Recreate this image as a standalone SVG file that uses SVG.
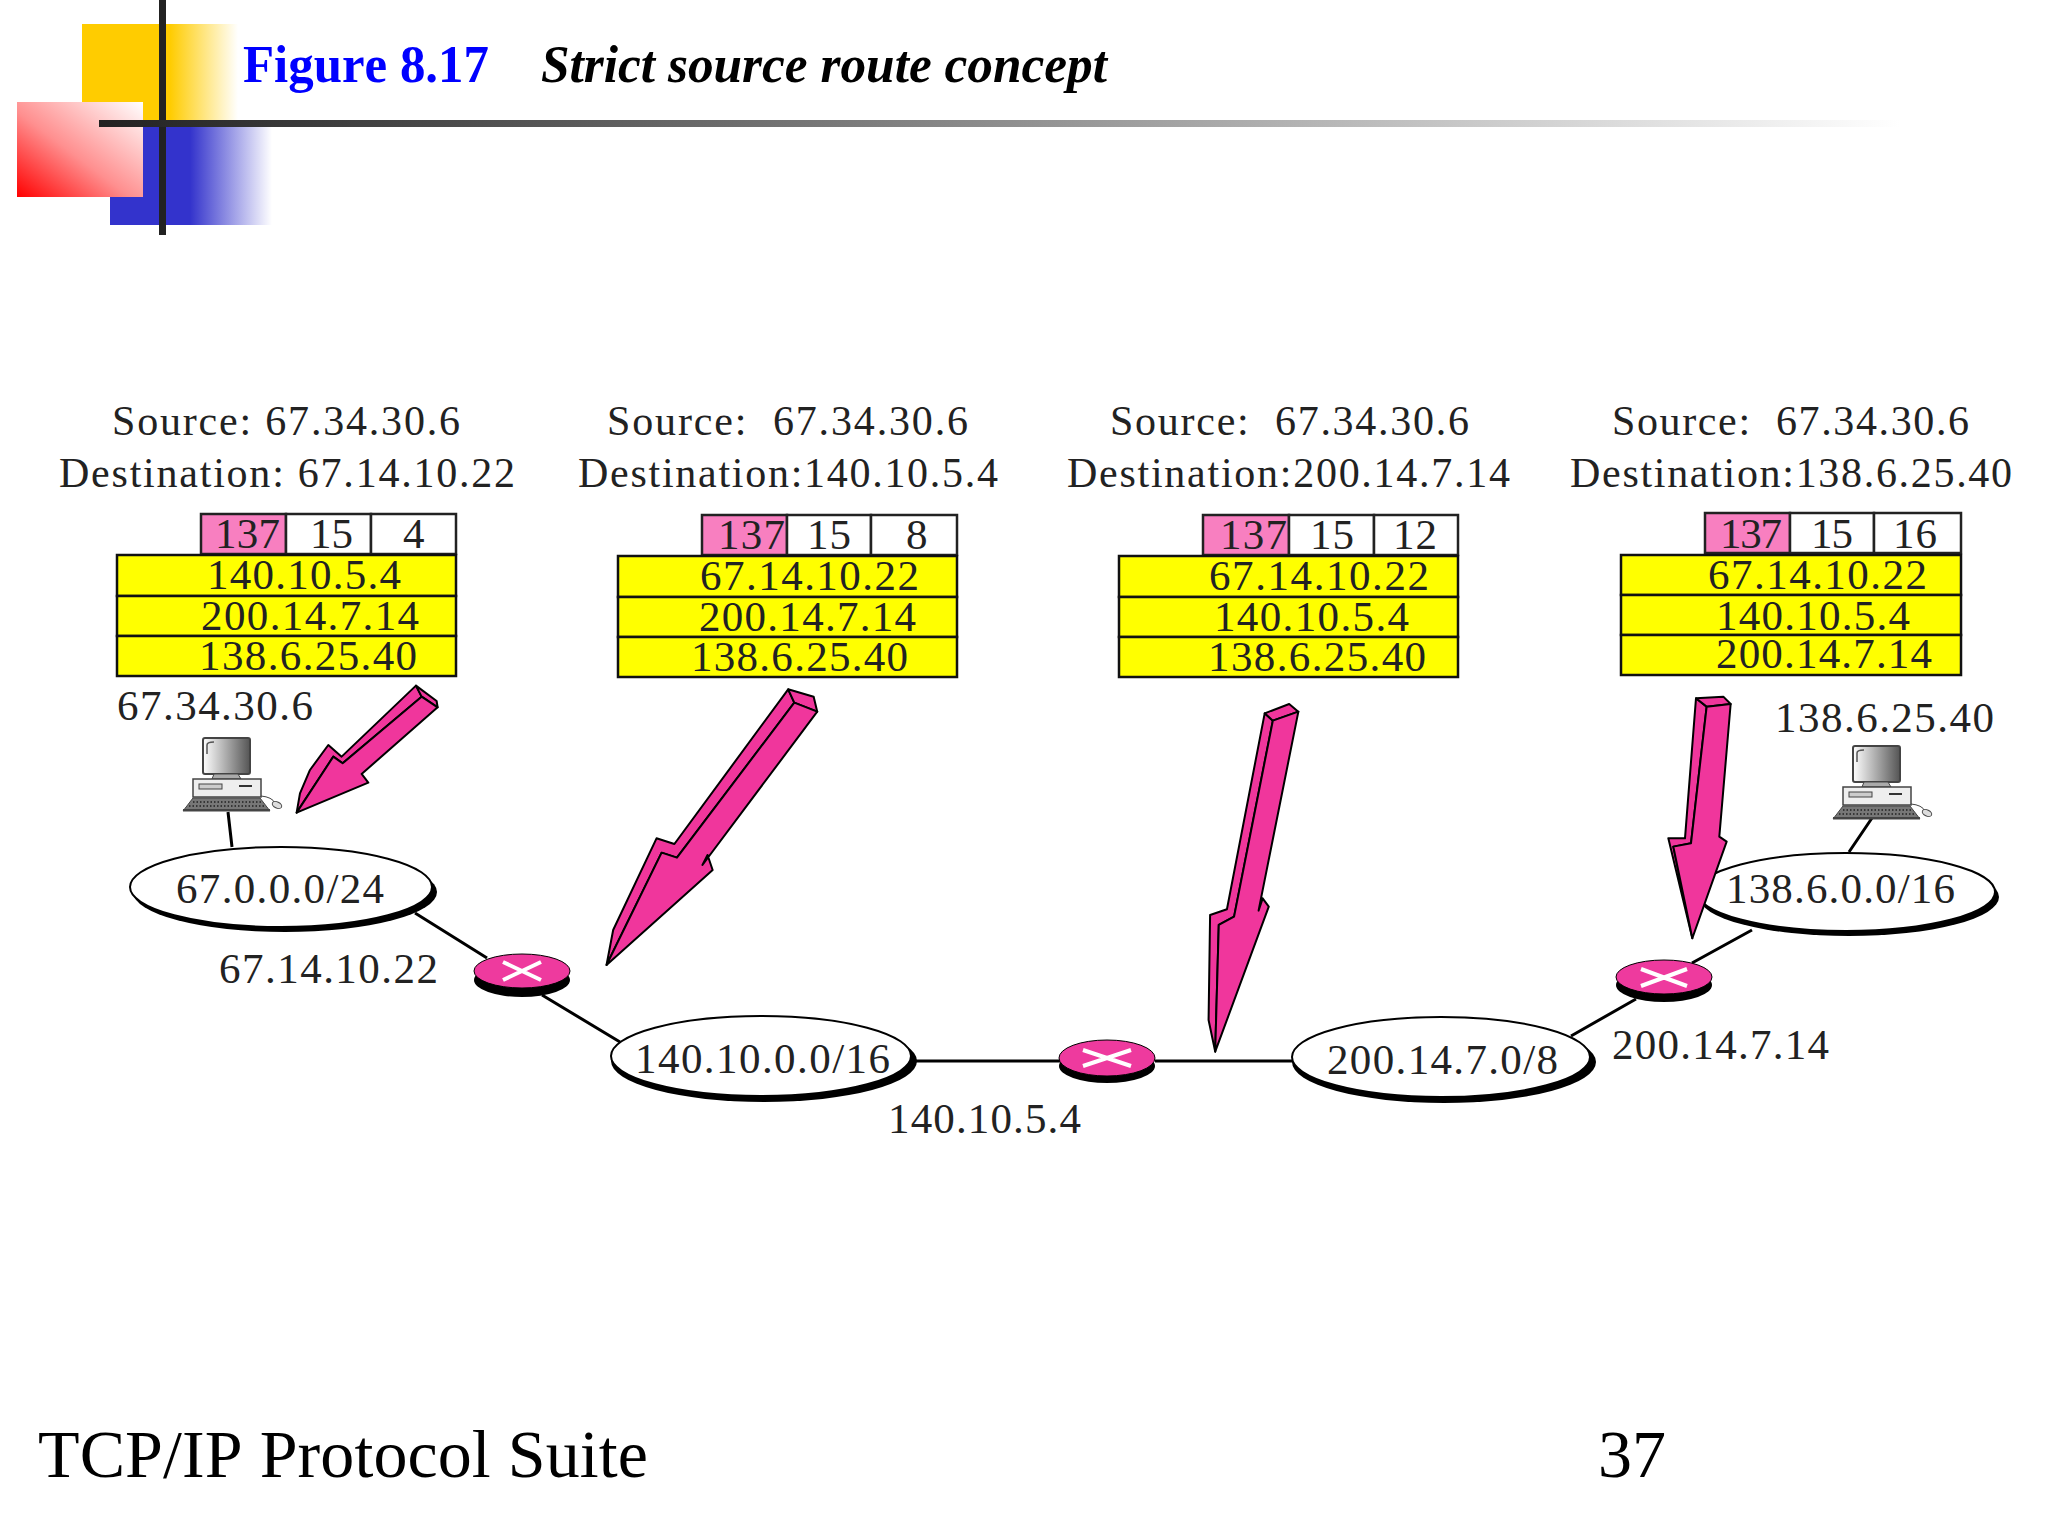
<svg xmlns="http://www.w3.org/2000/svg" width="2048" height="1536" viewBox="0 0 2048 1536">
<style>
text{font-family:"Liberation Serif","Times New Roman",serif;fill:#222;font-kerning:none}
.t{font-size:42px}
.c{font-size:43px}
.foot{font-size:68px;fill:#000}
.pk{fill:#f87fc0;stroke:#222;stroke-width:2.5}
.wh{fill:#fff;stroke:#222;stroke-width:2.5}
.ye{fill:#ff0;stroke:#111;stroke-width:2.5}
.net{fill:#fff;stroke:#000;stroke-width:2}
.sh{fill:#000}
.rt{fill:#ee3a9e;stroke:#000;stroke-width:1}
.x{stroke:#fff;stroke-width:4;fill:none}
.ln{stroke:#000;stroke-width:3;fill:none}
.ar path{fill:#f0369c;stroke:#000;stroke-width:2;stroke-linejoin:round;vector-effect:non-scaling-stroke}
</style>
<defs>
<linearGradient id="gy" gradientUnits="userSpaceOnUse" x1="170" y1="0" x2="238" y2="0"><stop offset="0" stop-color="#fc0"/><stop offset="1" stop-color="#fc0" stop-opacity="0"/></linearGradient>
<linearGradient id="gb" gradientUnits="userSpaceOnUse" x1="190" y1="0" x2="272" y2="0"><stop offset="0" stop-color="#33c"/><stop offset="1" stop-color="#33c" stop-opacity="0"/></linearGradient>
<linearGradient id="gr" x1="0" y1="1" x2="1" y2="0"><stop offset="0" stop-color="#f00"/><stop offset="0.45" stop-color="#ff8f8f"/><stop offset="1" stop-color="#fff"/></linearGradient>
<linearGradient id="gl" gradientUnits="userSpaceOnUse" x1="99" y1="0" x2="1900" y2="0"><stop offset="0" stop-color="#222"/><stop offset="0.4" stop-color="#777"/><stop offset="1" stop-color="#fff"/></linearGradient>
<linearGradient id="gm" x1="0" y1="0" x2="1" y2="0"><stop offset="0" stop-color="#fff"/><stop offset="1" stop-color="#555"/></linearGradient>
<g id="pc">
<rect x="203" y="738" width="47" height="36" rx="2" fill="url(#gm)" stroke="#444" stroke-width="2"/>
<path d="M207 754V745Q207 742 214 742" fill="none" stroke="#555" stroke-width="1.5"/>
<path d="M212 779L214 774H238L241 779Z" fill="#aaa" stroke="#444"/>
<rect x="193" y="779" width="68" height="18" fill="#eee" stroke="#444" stroke-width="1.5"/>
<rect x="199" y="784" width="23" height="5" fill="#ccc" stroke="#444"/>
<path d="M239 786H252" stroke="#333" stroke-width="2"/>
<path d="M183 811L193 798H260L270 811Z" fill="#777" stroke="#444"/>
<path d="M193 802H261M189 806H265" stroke="#222" stroke-width="1.5" stroke-dasharray="1.5 2"/>
<path d="M183 810H270" stroke="#444" stroke-width="2"/>
<path d="M261 796Q272 797 275 803" fill="none" stroke="#444"/>
<ellipse cx="277" cy="805" rx="5" ry="3" fill="#ddd" stroke="#444" transform="rotate(25 277 805)"/>
</g>
</defs>
<g id="decor">
<rect x="82" y="24" width="88" height="96" fill="#fc0"/>
<rect x="170" y="24" width="68" height="96" fill="url(#gy)"/>
<rect x="110" y="127" width="80" height="98" fill="#33c"/>
<rect x="190" y="127" width="82" height="98" fill="url(#gb)"/>
<rect x="17" y="102" width="126" height="95" fill="url(#gr)"/>
<rect x="159" y="0" width="7" height="235" fill="#222"/>
<rect x="99" y="120" width="1801" height="7" fill="url(#gl)"/>
</g>
<g id="title">
<text x="243" y="82" font-size="52" font-weight="bold" style="fill:#00f" textLength="246" lengthAdjust="spacingAndGlyphs">Figure 8.17</text>
<text x="541" y="82" font-size="52" font-weight="bold" font-style="italic" style="fill:#000" textLength="566" lengthAdjust="spacingAndGlyphs">Strict source route concept</text>
</g>
<g id="connectors">
<path class="ln" d="M228 812L232 847M415 913L487 958M542 995L620 1042M912 1061H1060M1155 1061H1292M1571 1036L1636 999M1692 963L1752 930M1872 818L1849 852"/>
</g>
<g id="packet1">
<text class="t" x="112" y="435" textLength="348">Source: 67.34.30.6</text>
<text class="t" x="59" y="487" textLength="456">Destination: 67.14.10.22</text>
<rect class="pk" x="201" y="514" width="85" height="40"/><rect class="wh" x="286" y="514" width="85" height="40"/><rect class="wh" x="371" y="514" width="85" height="40"/>
<rect class="ye" x="117" y="555" width="339" height="41"/><rect class="ye" x="117" y="596" width="339" height="40"/><rect class="ye" x="117" y="636" width="339" height="40"/>
<text class="c" x="215" y="548" textLength="65">137</text><text class="c" x="310" y="548" textLength="43">15</text><text class="c" x="403" y="548">4</text>
<text class="c" x="207" y="589" textLength="194">140.10.5.4</text><text class="c" x="201" y="630" textLength="218">200.14.7.14</text><text class="c" x="199" y="670" textLength="218">138.6.25.40</text>
</g>
<g id="packet2">
<text class="t" x="607" y="435" textLength="361" xml:space="preserve">Source:  67.34.30.6</text>
<text class="t" x="578" y="487" textLength="420">Destination:140.10.5.4</text>
<rect class="pk" x="702" y="515" width="85" height="40"/><rect class="wh" x="787" y="515" width="84" height="40"/><rect class="wh" x="871" y="515" width="86" height="40"/>
<rect class="ye" x="618" y="556" width="339" height="41"/><rect class="ye" x="618" y="597" width="339" height="40"/><rect class="ye" x="618" y="637" width="339" height="40"/>
<text class="c" x="718" y="549" textLength="67">137</text><text class="c" x="807" y="549" textLength="44">15</text><text class="c" x="906" y="549">8</text>
<text class="c" x="700" y="590" textLength="219">67.14.10.22</text><text class="c" x="699" y="631" textLength="217">200.14.7.14</text><text class="c" x="691" y="671" textLength="217">138.6.25.40</text>
</g>
<g id="packet3">
<text class="t" x="1110" y="435" textLength="359" xml:space="preserve">Source:  67.34.30.6</text>
<text class="t" x="1067" y="487" textLength="443">Destination:200.14.7.14</text>
<rect class="pk" x="1203" y="515" width="86" height="40"/><rect class="wh" x="1289" y="515" width="85" height="40"/><rect class="wh" x="1374" y="515" width="84" height="40"/>
<rect class="ye" x="1119" y="556" width="339" height="41"/><rect class="ye" x="1119" y="597" width="339" height="40"/><rect class="ye" x="1119" y="637" width="339" height="40"/>
<text class="c" x="1220" y="549" textLength="67">137</text><text class="c" x="1310" y="549" textLength="44">15</text><text class="c" x="1393" y="549" textLength="44">12</text>
<text class="c" x="1209" y="590" textLength="220">67.14.10.22</text><text class="c" x="1214" y="631" textLength="195">140.10.5.4</text><text class="c" x="1208" y="671" textLength="218">138.6.25.40</text>
</g>
<g id="packet4">
<text class="t" x="1612" y="435" textLength="357" xml:space="preserve">Source:  67.34.30.6</text>
<text class="t" x="1570" y="487" textLength="442">Destination:138.6.25.40</text>
<rect class="pk" x="1705" y="513" width="85" height="40"/><rect class="wh" x="1790" y="513" width="84" height="40"/><rect class="wh" x="1874" y="513" width="87" height="40"/>
<rect class="ye" x="1621" y="555" width="340" height="40"/><rect class="ye" x="1621" y="595" width="340" height="40"/><rect class="ye" x="1621" y="635" width="340" height="40"/>
<text class="c" x="1720" y="548" textLength="62">137</text><text class="c" x="1811" y="548" textLength="42">15</text><text class="c" x="1893" y="548" textLength="44">16</text>
<text class="c" x="1708" y="589" textLength="219">67.14.10.22</text><text class="c" x="1716" y="630" textLength="194">140.10.5.4</text><text class="c" x="1716" y="668" textLength="216">200.14.7.14</text>
</g>
<g id="host1"><use href="#pc"/><text class="c" x="117" y="720" textLength="196">67.34.30.6</text></g>
<g id="host2"><use href="#pc" x="1650" y="8"/><text class="c" x="1775" y="732" textLength="219">138.6.25.40</text></g>
<g id="net1"><ellipse class="sh" cx="285" cy="892" rx="152" ry="40"/><ellipse class="net" cx="281" cy="887" rx="151" ry="40"/><text class="c" x="176" y="903" textLength="208">67.0.0.0/24</text></g>
<g id="net2"><ellipse class="sh" cx="764" cy="1061" rx="153" ry="41"/><ellipse class="net" cx="761" cy="1056" rx="150" ry="40"/><text class="c" x="635" y="1073" textLength="255">140.10.0.0/16</text></g>
<g id="net3"><ellipse class="sh" cx="1444" cy="1062" rx="152" ry="41"/><ellipse class="net" cx="1441" cy="1057" rx="149" ry="40"/><text class="c" x="1327" y="1074" textLength="231">200.14.7.0/8</text></g>
<g id="net4"><ellipse class="sh" cx="1849" cy="897" rx="150" ry="39"/><ellipse class="net" cx="1846" cy="892" rx="149" ry="39"/><text class="c" x="1726" y="903" textLength="229">138.6.0.0/16</text></g>
<g id="router1"><ellipse class="sh" cx="522" cy="980" rx="48" ry="17"/><ellipse class="rt" cx="522" cy="971" rx="48" ry="17"/><path class="x" d="M503 962L541 980M503 980L541 962"/></g>
<g id="router2"><ellipse class="sh" cx="1107" cy="1066" rx="48" ry="17"/><ellipse class="rt" cx="1107" cy="1058" rx="48" ry="18"/><path class="x" d="M1083 1050L1131 1066M1083 1066L1131 1050"/></g>
<g id="router3"><ellipse class="sh" cx="1664" cy="985" rx="48" ry="17"/><ellipse class="rt" cx="1664" cy="977" rx="48" ry="17"/><path class="x" d="M1641 969L1687 986M1641 986L1687 969"/></g>
<g id="labels">
<text class="c" x="219" y="983" textLength="219">67.14.10.22</text>
<text class="c" x="888" y="1133" textLength="193">140.10.5.4</text>
<text class="c" x="1612" y="1059" textLength="217">200.14.7.14</text>
</g>
<g id="arrows" class="ar">
<g transform="translate(40 500) scale(.3333)">
<path d="M770 938L780 880L810 810L865 735L905 770L1128 557L1145 590L908 790L880 770Z"/>
<path d="M1128 557L1190 603L1193 622L1145 590Z"/>
<path d="M770 938L880 770L908 790L1145 590L1193 622L965 822L985 848Z"/>
</g>
<g transform="translate(580 680) scale(.5102 .3333)">
<path d="M52 855L65 750L150 475L185 492L408 28L420 68L190 533L160 518Z"/>
<path d="M408 28L458 50L465 95L420 68Z"/>
<path d="M52 855L160 518L190 533L420 68L465 95L240 555L250 525L260 570Z"/>
</g>
<g transform="translate(580 680) scale(.5102 .3333)">
<path d="M1245 1115L1232 1020L1235 705L1268 688L1342 100L1358 122L1282 710L1252 735Z"/>
<path d="M1342 100L1390 72L1408 95L1358 122Z"/>
<path d="M1245 1115L1252 735L1282 710L1358 122L1408 95L1330 692L1338 655L1350 680Z"/>
</g>
<g transform="translate(1560 500) scale(.3333)">
<path d="M397 1315L325 1015L375 1015L408 595L440 620L393 1030L340 1040Z"/>
<path d="M408 595L490 590L512 612L440 620Z"/>
<path d="M397 1315L340 1040L393 1030L440 620L512 612L478 1010L500 1025Z"/>
</g>
</g>
<g id="footer">
<text class="foot" x="38" y="1477" textLength="610" style="fill:#000">TCP/IP Protocol Suite</text>
<text class="foot" x="1598" y="1477" style="fill:#000">37</text>
</g>
</svg>
